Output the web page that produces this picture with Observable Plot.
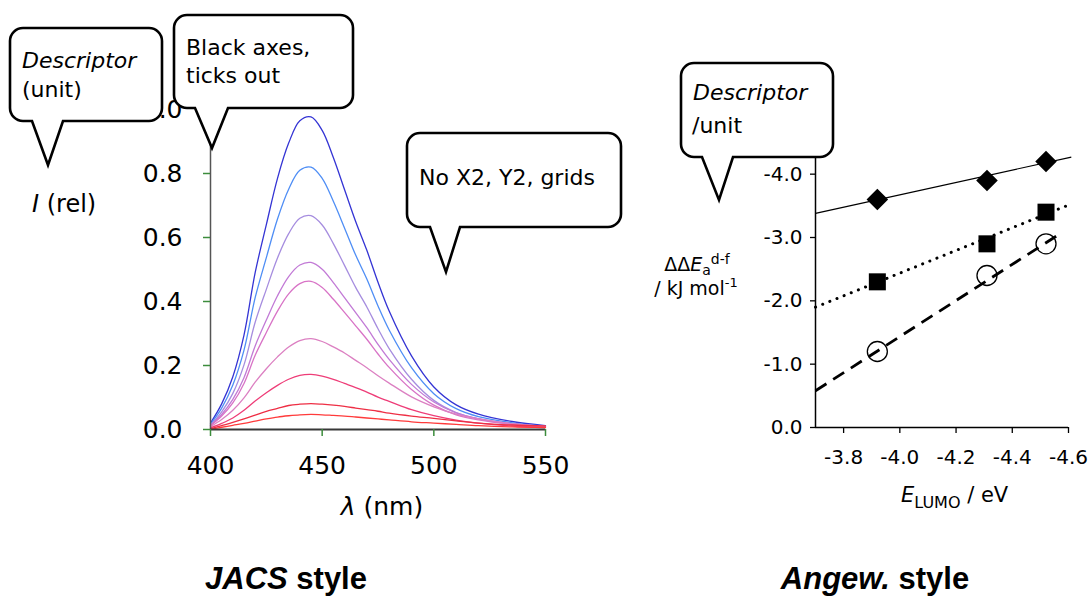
<!DOCTYPE html>
<html><head><meta charset="utf-8">
<script src="https://cdn.jsdelivr.net/npm/d3@7"></script>
<script src="https://cdn.jsdelivr.net/npm/@observablehq/plot@0.6"></script>
<style>
body{margin:0;background:#fff}
#wrap{position:relative;width:1090px;height:596px;overflow:hidden;background:#fff}
#left{position:absolute;left:0;top:0;width:600px;height:540px}
#right{position:absolute;left:600px;top:0;width:490px;height:540px}
#ov{position:absolute;left:0;top:0}
#ov text{font-family:"DejaVu Sans",sans-serif;fill:#000}
</style></head><body>
<div id="wrap"><div id="left"></div><div id="right"></div>
<svg id="ov" width="1090" height="596" xmlns="http://www.w3.org/2000/svg">
  <text x="32" y="212" font-size="24"><tspan font-style="italic">I</tspan> (rel)</text>
  <text x="382" y="515" font-size="25" text-anchor="middle"><tspan font-style="italic">λ</tspan> (nm)</text>
  <text x="697" y="271" font-size="19" text-anchor="middle">ΔΔ<tspan font-style="italic">E</tspan><tspan font-size="14" dy="4">a</tspan><tspan font-size="14" dy="-11">d-f</tspan></text>
  <text x="696" y="295" font-size="19" text-anchor="middle">/ kJ mol<tspan font-size="13" dy="-8">-1</tspan></text>
  <text x="901" y="502" font-size="21"><tspan font-style="italic">E</tspan><tspan font-size="16" dy="6">LUMO</tspan><tspan dy="-6"> / eV</tspan></text>
  <g id="bubbles"></g>
  <text x="286" y="589" text-anchor="middle" style="font-family:'Liberation Sans',Arial,sans-serif;font-weight:bold;font-size:31px"><tspan font-style="italic">JACS</tspan> style</text>
  <text x="875" y="589" text-anchor="middle" style="font-family:'Liberation Sans',Arial,sans-serif;font-weight:bold;font-size:31px"><tspan font-style="italic">Angew.</tspan> style</text>
</svg></div>
<script>
// ---------- Left chart data (emission spectra) ----------
const wavelength = [400,405,410,415,420,425,430,435,440,445,450,455,460,465,470,475,480,490,500,510,520,535,550];
const spec1 = [.020,.080,.165,.295,.490,.640,.785,.895,.965,.977,.935,.850,.750,.650,.560,.460,.370,.230,.133,.077,.048,.025,.012];
const spec2 = [.017,.067,.139,.248,.412,.537,.658,.751,.810,.820,.785,.713,.630,.545,.470,.386,.311,.193,.112,.065,.040,.021,.010];
const spec3 = [.013,.055,.113,.202,.335,.438,.536,.612,.660,.668,.639,.581,.513,.444,.383,.315,.253,.157,.091,.053,.033,.017,.008];
const spec4 = [.013,.047,.094,.162,.261,.342,.418,.478,.514,.522,.501,.459,.412,.365,.318,.266,.219,.141,.086,.052,.034,.018,.009];
const spec5 = [.012,.042,.083,.144,.232,.303,.370,.424,.456,.463,.444,.407,.366,.324,.282,.236,.194,.125,.076,.046,.030,.016,.008];
const spec6 = [.009,.031,.060,.099,.148,.190,.227,.258,.278,.284,.275,.258,.239,.216,.193,.168,.145,.102,.071,.048,.033,.018,.010];
const spec7 = [.005,.019,.036,.060,.089,.115,.138,.157,.169,.172,.167,.157,.144,.131,.117,.101,.088,.062,.043,.029,.020,.011,.006];
const spec8 = [.002,.012,.022,.033,.045,.057,.066,.075,.079,.081,.079,.076,.072,.067,.062,.057,.051,.042,.035,.027,.020,.014,.011];
const spec9 = [.001,.007,.013,.019,.026,.033,.039,.043,.046,.047,.046,.044,.042,.039,.036,.033,.030,.024,.020,.016,.012,.008,.006];
const spectra = [spec1,spec2,spec3,spec4,spec5,spec6,spec7,spec8,spec9];
const specColors = ["#3434d4","#4f8ef5","#a68ddf","#c27ad6","#d873c6","#dc80c2","#ee3d78","#ee2f45","#ff3b3b"];
const xTicksL = [400,450,500,550];
const yTicksL = [0,0.2,0.4,0.6,0.8,1.0];
const xDomainL = [400,550];
const yDomainL = [0,1];

// ---------- Right chart data ----------
const eLumo = [-3.92,-4.31,-4.52];
const ddEdiamond = [-3.6,-3.9,-4.2];
const ddEsquare = [-2.3,-2.9,-3.4];
const ddEcircle = [-1.2,-2.4,-2.9];
const fitName = ["diamond","square","circle"];
const fitX1 = [-3.7,-3.7,-3.7];
const fitX2 = [-4.61,-4.61,-4.57];
const fitY1 = [-3.38,-1.90,-0.58];
const fitY2 = [-4.27,-3.53,-3.06];
const xTicksR = [-3.8,-4.0,-4.2,-4.4,-4.6];
const yTicksR = [0,-1,-2,-3,-4];
const xDomainR = [-3.7,-4.6];
const yDomainR = [0,-4.5];

const green = "#3c8c3c";
const rows = spectra.flatMap((s,k)=>s.map((v,i)=>({lam:wavelength[i], I:v, c:specColors[k]})));

const left = Plot.plot({
  width:600, height:540, marginLeft:210, marginRight:55, marginTop:109, marginBottom:111,
  x:{domain:xDomainL}, y:{domain:yDomainL}, color:{type:"identity"},
  style:{background:"transparent", fontFamily:"DejaVu Sans", fontSize:"25px", color:"#000", overflow:"visible"},
  marks:[
    Plot.line(rows,{x:"lam", y:"I", stroke:"c", z:"c", curve:"catmull-rom", strokeWidth:1.3}),
    Plot.ruleX([xDomainL[0]],{stroke:"#555", strokeWidth:1.5}),
    Plot.ruleY([yDomainL[0]],{stroke:"#383838", strokeWidth:2.2}),
    Plot.axisY({ticks:yTicksL, tickSize:7, tickPadding:21, tickFormat:d=>d.toFixed(1), stroke:green, fill:"#000", strokeWidth:1.5, label:null}),
    Plot.axisX({ticks:xTicksL, tickSize:7, tickPadding:20, tickFormat:d=>String(d), stroke:green, fill:"#000", strokeWidth:1.5, label:null})
  ]
});
document.getElementById("left").appendChild(left);

const fmt = d => (d<0?"-":"")+Math.abs(d).toFixed(1);
const fits = fitName.map((n,i)=>({n, x1:fitX1[i], x2:fitX2[i], y1:fitY1[i], y2:fitY2[i]}));
const pts = (arr)=>eLumo.map((x,i)=>({x, y:arr[i]}));
const right = Plot.plot({
  width:490, height:540, marginLeft:215, marginRight:22, marginTop:142, marginBottom:113,
  x:{domain:xDomainR}, y:{domain:yDomainR},
  style:{background:"transparent", fontFamily:"DejaVu Sans", fontSize:"20px", color:"#000", overflow:"visible"},
  marks:[
    Plot.link(fits.filter(d=>d.n==="diamond"),{x1:"x1",y1:"y1",x2:"x2",y2:"y2",stroke:"#000",strokeWidth:1.2}),
    Plot.link(fits.filter(d=>d.n==="square"),{x1:"x1",y1:"y1",x2:"x2",y2:"y2",stroke:"#000",strokeWidth:3,strokeDasharray:"0.1,7.6",strokeLinecap:"round"}),
    Plot.link(fits.filter(d=>d.n==="circle"),{x1:"x1",y1:"y1",x2:"x2",y2:"y2",stroke:"#000",strokeWidth:2.8,strokeDasharray:"13,8"}),
    Plot.dot(pts(ddEdiamond),{x:"x",y:"y",symbol:"diamond2",r:9.7,fill:"#000",stroke:"none"}),
    Plot.dot(pts(ddEsquare),{x:"x",y:"y",symbol:"square",r:9.6,fill:"#000",stroke:"none"}),
    Plot.dot(pts(ddEcircle),{x:"x",y:"y",symbol:"circle",r:10,fill:"none",stroke:"#000",strokeWidth:1.3}),
    Plot.ruleX([xDomainR[0]],{stroke:"#000", strokeWidth:1.5}),
    Plot.ruleY([yDomainR[0]],{stroke:"#000", strokeWidth:1.5}),
    Plot.axisY({ticks:yTicksR, tickSize:5, tickPadding:8, tickFormat:fmt, stroke:"#000", fill:"#000", strokeWidth:1.3, label:null}),
    Plot.axisX({ticks:xTicksR, tickSize:6, tickPadding:16, tickFormat:fmt, stroke:"#000", fill:"#000", strokeWidth:1.3, label:null})
  ]
});
document.getElementById("right").appendChild(right);

// ---------- Speech-bubble annotations ----------
const bubbles = [
  {x0:10,y0:28,x1:162,y1:121,t1:32,tx:48,ty:165,t2:63, lines:[{t:"Descriptor",i:true,x:22,y:68},{t:"(unit)",x:22,y:97}]},
  {x0:174,y0:15,x1:353,y1:108,t1:195,tx:212,ty:148,t2:228, lines:[{t:"Black axes,",x:186,y:55},{t:"ticks out",x:186,y:83}]},
  {x0:407,y0:133,x1:621,y1:227,t1:430,tx:446,ty:272,t2:460, lines:[{t:"No X2, Y2, grids",x:419,y:185}]},
  {x0:681,y0:63,x1:833,y1:157,t1:702,tx:719,ty:200,t2:733, lines:[{t:"Descriptor",i:true,x:693,y:100},{t:"/unit",x:692,y:133}]}
];
const g = d3.select("#bubbles");
const r = 13;
for (const b of bubbles) {
  const p = `M${b.x0+r},${b.y0} H${b.x1-r} A${r},${r} 0 0 1 ${b.x1},${b.y0+r} V${b.y1-r} A${r},${r} 0 0 1 ${b.x1-r},${b.y1} H${b.t2} L${b.tx},${b.ty} L${b.t1},${b.y1} H${b.x0+r} A${r},${r} 0 0 1 ${b.x0},${b.y1-r} V${b.y0+r} A${r},${r} 0 0 1 ${b.x0+r},${b.y0} Z`;
  g.append("path").attr("d",p).attr("fill","#fff").attr("stroke","#000").attr("stroke-width",2.6).attr("stroke-linejoin","miter");
  for (const l of b.lines) {
    g.append("text").attr("x",l.x).attr("y",l.y).attr("font-size",22).attr("font-style",l.i?"italic":null).text(l.t);
  }
}
</script>
</body></html>
